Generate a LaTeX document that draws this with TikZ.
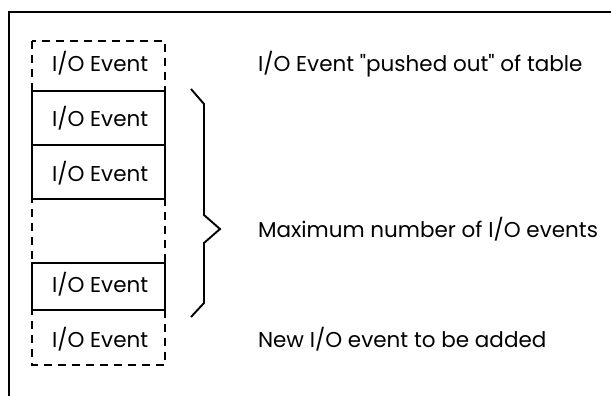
\documentclass[tikz,border=0pt]{standalone}
\usepackage{fontspec}
% plain family without TeX ligature mapping, so " stays a straight quote
\newfontfamily\labelfont{Poppins}
\begin{document}
\begin{tikzpicture}[x=1pt,y=-1pt,
  every node/.style={inner sep=0pt, outer sep=0pt},
  lbl/.style={font=\labelfont\fontsize{21.5}{24}\selectfont, anchor=base west},
  slot/.style={draw, line width=1.6pt, rectangle, anchor=north west,
    minimum width=133pt},
  dashbox/.style={draw, line width=1.6pt, dash pattern=on 8pt off 6pt},
  brace/.style={line width=1.9pt, line join=miter}]
\useasboundingbox (0,0) rectangle (611,396);

% open frame (top and left edges)
\draw[line width=2pt] (9,396) -- (9,12) -- (611,12);

% dashed outline of the whole table
\draw[dashbox] (32,41) rectangle (165,365);

% occupied slots
\node[slot, minimum height=54pt, fill=white] (s1) at (32,91) {};
\node[slot, minimum height=54pt, fill=white] (s2) at (32,145) {};
\node[slot, minimum height=47pt, fill=white] (s3) at (32,263) {};

% slot labels
\node[lbl] (t0) at (52,72) {I/O Event};
\node[lbl] (t1) at (52,127) {I/O Event};
\node[lbl] (t2) at (52,181) {I/O Event};
\node[lbl] (t3) at (52,292) {I/O Event};
\node[lbl] (t4) at (52,347) {I/O Event};

% brace spanning the occupied slots
\coordinate (btop) at (191,89);
\coordinate (btip) at (220,229);
\coordinate (bbot) at (191,317);
\draw[brace] (btop) -- (204,104) -- (204,215) -- (btip) -- (204,243)
  -- (204,303) -- (bbot);

% descriptions
\node[lbl] (d0) at (258,72) {I/O Event "pushed out" of table};
\node[lbl] (d1) at (258,237) {Maximum number of I/O events};
\node[lbl] (d2) at (258,347) {New I/O event to be added};
\end{tikzpicture}
\end{document}
